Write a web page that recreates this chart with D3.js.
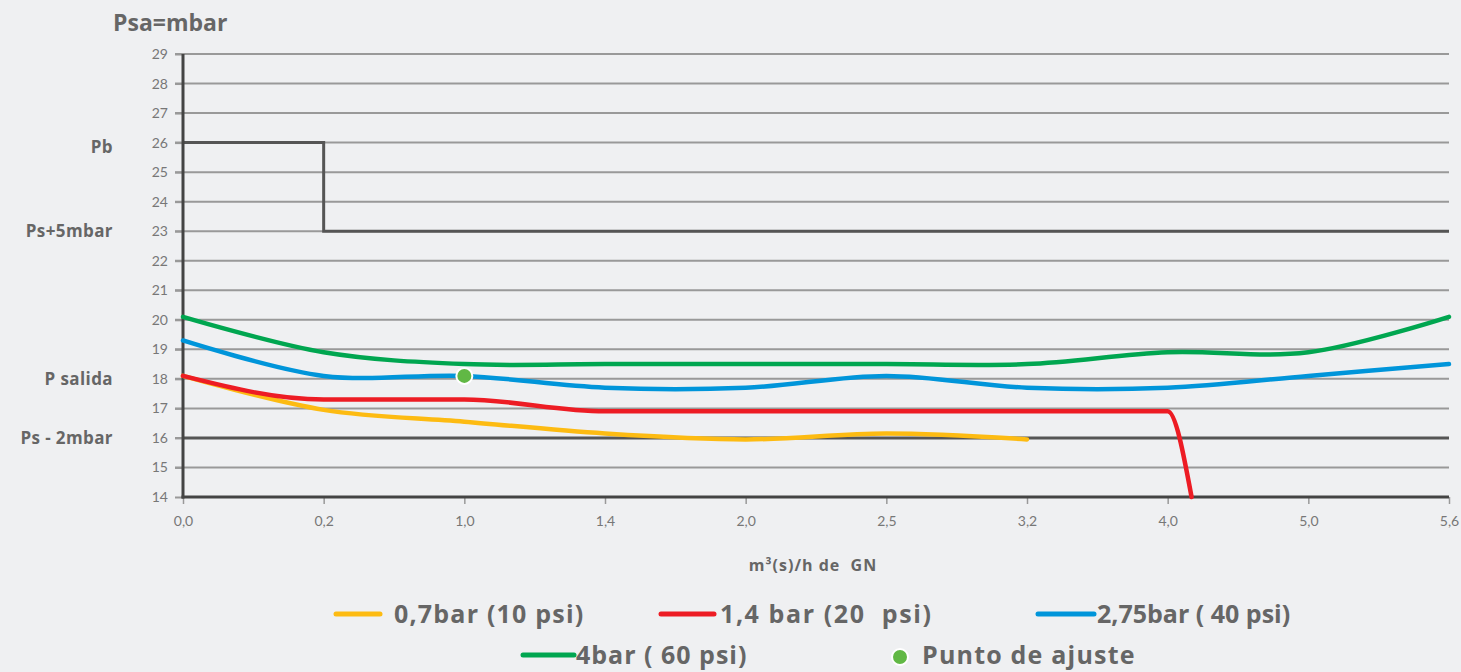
<!DOCTYPE html>
<html>
<head>
<meta charset="utf-8">
<script src="https://cdn.jsdelivr.net/npm/d3@7"></script>
<style>
  body { margin: 0; background: #eff0f2; }
  svg { display: block; font-family: "Open Sans", Lato, sans-serif; }
</style>
</head>
<body>
<script>
	// data
	var xLabels = ["0,0", "0,2", "1,0", "1,4", "2,0", "2,5", "3,2", "4,0", "5,0", "5,6"];
	var yTicks = [14, 15, 16, 17, 18, 19, 20, 21, 22, 23, 24, 25, 26, 27, 28, 29];

	var yellow = [18.1, 16.95, 16.55, 16.15, 15.95, 16.15, 15.95];
	var red = [18.1, 17.3, 17.3, 16.9, 16.9, 16.9, 16.9, 16.9];
	var redDrop = { i: 7.17, v: 14 };   // red falls off the chart just past 4,0
	var blue = [19.3, 18.1, 18.1, 17.7, 17.7, 18.1, 17.7, 17.7, 18.1, 18.5];
	var green = [20.1, 18.9, 18.5, 18.5, 18.5, 18.5, 18.5, 18.9, 18.9, 20.1];

	var pbStepX = [0, 1, 1, 9];
	var pbStepY = [26, 26, 23, 23];
	var minLine = 16;
	var adjustPoint = { i: 2, v: 18.1 };

	var sideLabels = [
		{ v: 26, t: "Pb" },
		{ v: 23, t: "Ps+5mbar" },
		{ v: 18, t: "P salida" },
		{ v: 16, t: "Ps - 2mbar" }
	];

	var series = [
		{ name: "0,7bar (10 psi)", color: "#fdbb12", values: yellow },
		{ name: "1,4 bar (20  psi)", color: "#ed1c24", values: red },
		{ name: "2,75bar ( 40 psi)", color: "#0095da", values: blue },
		{ name: "4bar ( 60 psi)", color: "#00a650", values: green }
	];

	var w = 1461;
	var h = 672;

	var svg = d3.select("body")
		.append("svg")
		.attr("width", w)
		.attr("height", h);

	// scales: x runs over category index, categories equally spaced
	var x = d3.scaleLinear().domain([0, xLabels.length - 1]).range([183, 1449]);
	var y = d3.scaleLinear().domain([14, 29]).range([497, 54]);

	// grid lines
	svg.append("g")
		.selectAll("line")
		.data(yTicks.slice(1))
		.enter()
		.append("line")
		.attr("x1", 175)
		.attr("x2", x(9))
		.attr("y1", function(d) { return y(d); })
		.attr("y2", function(d) { return y(d); })
		.attr("stroke", "#999")
		.attr("stroke-width", 2);

	// y axis labels
	var yAxis = d3.axisLeft(y)
		.tickValues(yTicks)
		.tickSize(8)
		.tickPadding(7)
		.tickFormat(d3.format("d"));
	var yGuide = svg.append("g")
		.attr("transform", "translate(183,0)")
		.call(yAxis);
	yGuide.select(".domain").remove();
	yGuide.selectAll("line").attr("stroke", "#999").attr("stroke-width", 2);
	yGuide.selectAll("text")
		.attr("fill", "#777")
		.attr("font-size", "14px")
		.attr("font-family", "Lato, sans-serif");

	// x axis
	var xAxis = d3.axisBottom(x)
		.tickValues(d3.range(xLabels.length))
		.tickSize(7)
		.tickPadding(12)
		.tickFormat(function(i) { return xLabels[i]; });
	var xGuide = svg.append("g")
		.attr("transform", "translate(0,497)")
		.call(xAxis);
	xGuide.select(".domain").remove();
	xGuide.selectAll("line").attr("stroke", "#999").attr("stroke-width", 1.5);
	xGuide.selectAll("text")
		.attr("fill", "#777")
		.attr("font-size", "14px")
		.attr("font-family", "Lato, sans-serif");

	// reference lines
	svg.append("line")
		.attr("x1", x(0)).attr("x2", x(9))
		.attr("y1", y(minLine)).attr("y2", y(minLine))
		.attr("stroke", "#555").attr("stroke-width", 3);

	var stepLine = d3.line()
		.x(function(d) { return x(d[0]); })
		.y(function(d) { return y(d[1]); });
	svg.append("path")
		.datum(d3.zip(pbStepX, pbStepY))
		.attr("d", stepLine)
		.attr("fill", "none")
		.attr("stroke", "#555")
		.attr("stroke-width", 3);

	// axis lines (dark frame left and bottom)
	svg.append("line")
		.attr("x1", x(0)).attr("x2", x(0))
		.attr("y1", y(29)).attr("y2", y(14) + 1.5)
		.attr("stroke", "#444").attr("stroke-width", 3);
	svg.append("line")
		.attr("x1", x(0) - 1.5).attr("x2", x(9))
		.attr("y1", y(14)).attr("y2", y(14))
		.attr("stroke", "#444").attr("stroke-width", 3);

	// series lines
	var curveLine = d3.line()
		.x(function(d) { return x(d.i); })
		.y(function(d) { return y(d.v); })
		.curve(d3.curveCatmullRom.alpha(0.5));
	var monoLine = d3.line()
		.x(function(d) { return x(d.i); })
		.y(function(d) { return y(d.v); })
		.curve(d3.curveMonotoneX);

	series.forEach(function(s) {
		var pts = s.values.map(function(v, i) { return { i: i, v: v }; });
		var gen = curveLine;
		if (s.values === red) { pts.push(redDrop); gen = monoLine; }
		svg.append("path")
			.datum(pts)
			.attr("d", gen)
			.attr("fill", "none")
			.attr("stroke", s.color)
			.attr("stroke-width", 4.5)
			.attr("stroke-linecap", "round")
			.attr("stroke-linejoin", "round");
	});

	// adjustment point
	svg.append("circle")
		.attr("cx", x(adjustPoint.i))
		.attr("cy", y(adjustPoint.v))
		.attr("r", 8)
		.attr("fill", "#61b845")
		.attr("stroke", "#fff")
		.attr("stroke-width", 2);

	// titles
	svg.append("text")
		.text("Psa=mbar")
		.attr("x", 113)
		.attr("y", 31)
		.attr("fill", "#666")
		.attr("font-size", "23px")
		.attr("font-weight", "bold");

	svg.selectAll(".side")
		.data(sideLabels)
		.enter()
		.append("text")
		.attr("class", "side")
		.text(function(d) { return d.t; })
		.attr("x", 113)
		.attr("y", function(d) { return y(d.v); })
		.attr("dy", function(d, i) { return i === 0 ? "0.6em" : "0.35em"; })
		.attr("text-anchor", "end")
		.attr("fill", "#666")
		.attr("font-size", "17px")
		.attr("font-weight", "bold")
		.style("letter-spacing", "0.4px");

	svg.append("text")
		.text("m³(s)/h de  GN")
		.attr("x", 813)
		.attr("y", 571)
		.attr("text-anchor", "middle")
		.attr("fill", "#666")
		.attr("font-size", "16px")
		.attr("font-weight", "bold")
		.style("letter-spacing", "1px")
		.style("white-space", "pre");

	// legend
	var legendPos = [
		{ x1: 336, x2: 380, tx: 394, y: 614, ls: 1.2 },
		{ x1: 661, x2: 714, tx: 720, y: 614, ls: 1.6 },
		{ x1: 1038, x2: 1094, tx: 1097, y: 614, ls: 0 },
		{ x1: 523, x2: 574, tx: 576, y: 655, ls: 1 }
	];
	var legend = svg.append("g");
	series.forEach(function(s, i) {
		var p = legendPos[i];
		legend.append("line")
			.attr("x1", p.x1).attr("x2", p.x2)
			.attr("y1", p.y).attr("y2", p.y)
			.attr("stroke", s.color)
			.attr("stroke-width", 5)
			.attr("stroke-linecap", "round");
		legend.append("text")
			.text(s.name)
			.attr("x", p.tx)
			.attr("y", p.y)
			.attr("dy", "0.35em")
			.attr("fill", "#666")
			.attr("font-size", "25px")
			.attr("font-weight", "bold")
			.style("letter-spacing", p.ls + "px")
			.style("white-space", "pre");
	});
	legend.append("circle")
		.attr("cx", 900).attr("cy", 657).attr("r", 8)
		.attr("fill", "#61b845").attr("stroke", "#fff").attr("stroke-width", 2);
	legend.append("text")
		.text("Punto de ajuste")
		.attr("x", 922)
		.attr("y", 655)
		.attr("dy", "0.35em")
		.attr("fill", "#666")
		.attr("font-size", "25px")
		.attr("font-weight", "bold")
		.style("letter-spacing", "1.2px");
</script>
</body>
</html>
